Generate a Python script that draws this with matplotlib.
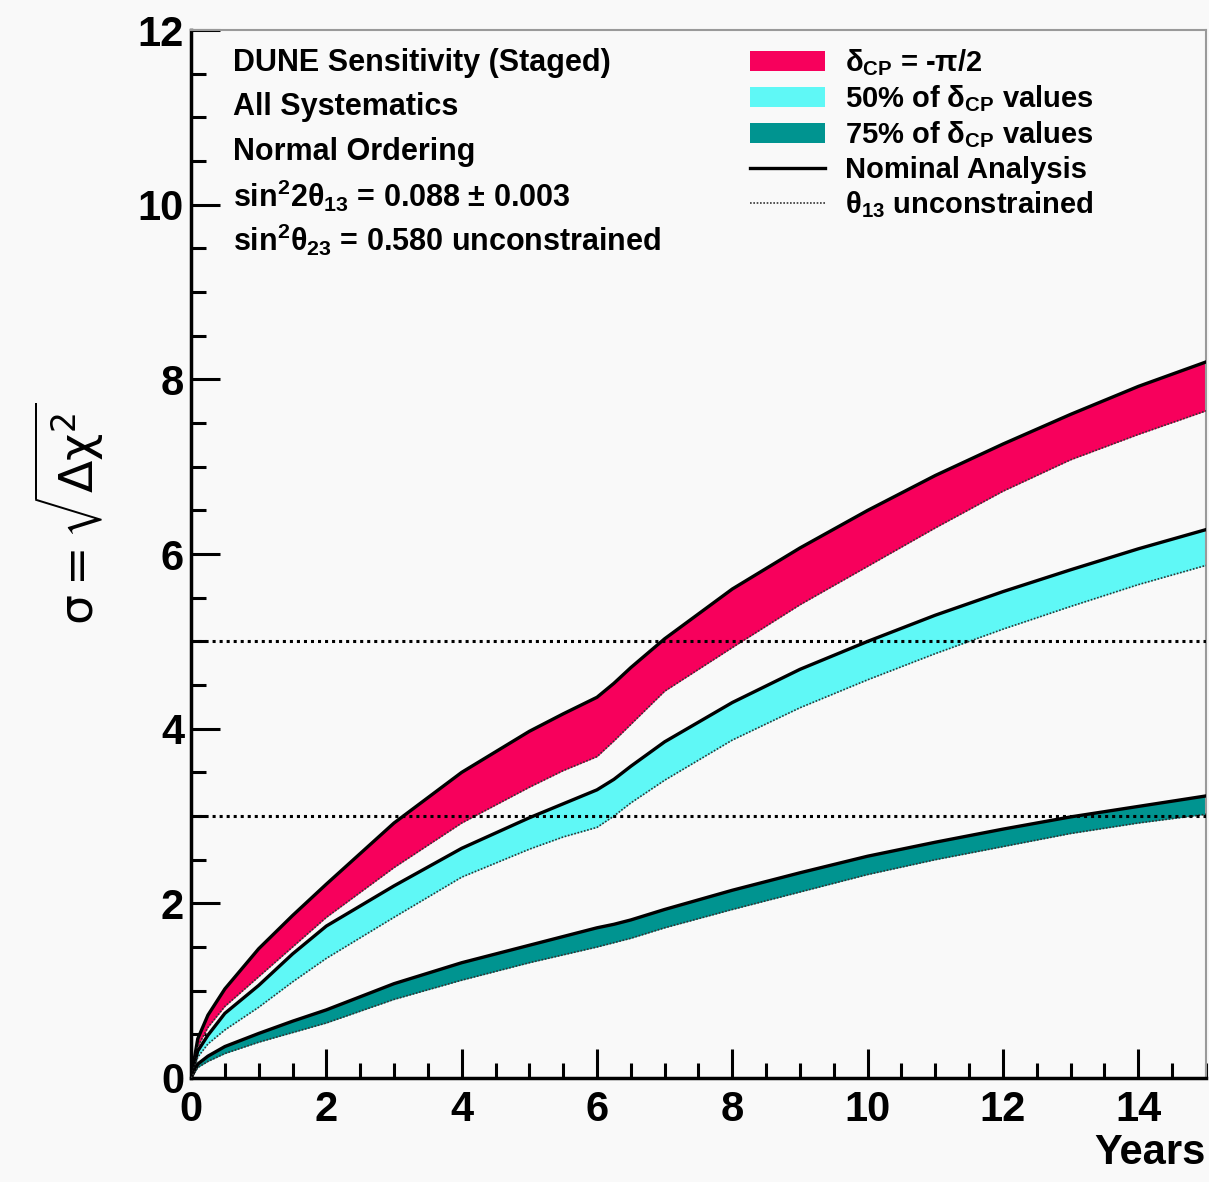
import numpy as np
import matplotlib.pyplot as plt
from matplotlib.patches import Patch
from matplotlib.lines import Line2D
from matplotlib.ticker import MultipleLocator

plt.rcParams['font.family'] = ['Liberation Sans', 'DejaVu Sans']
plt.rcParams['mathtext.fontset'] = 'custom'
plt.rcParams['mathtext.rm'] = 'Liberation Sans:bold'
plt.rcParams['mathtext.it'] = 'Liberation Sans:bold'
plt.rcParams['mathtext.bf'] = 'Liberation Sans:bold'
plt.rcParams['mathtext.sf'] = 'Liberation Sans:bold'
plt.rcParams['mathtext.default'] = 'rm'

# exposure in years
years = [0, 0.1, 0.25, 0.5, 1, 1.5, 2, 3, 4, 5, 5.5, 6, 6.25, 6.5, 7, 8, 9, 10, 11, 12, 13, 14, 15]

# delta_CP = -pi/2 : nominal (upper) and theta13 unconstrained (lower)
red_nominal = [0, 0.45, 0.72, 1.02, 1.48, 1.86, 2.22, 2.92, 3.50, 3.97, 4.17, 4.36, 4.52, 4.70,
               5.03, 5.60, 6.07, 6.50, 6.90, 7.26, 7.60, 7.92, 8.20]
red_unconstr = [0, 0.36, 0.58, 0.82, 1.16, 1.50, 1.84, 2.41, 2.92, 3.33, 3.52, 3.68, 3.86, 4.05,
                4.43, 4.93, 5.42, 5.86, 6.30, 6.72, 7.08, 7.37, 7.64]

# 50% of delta_CP values
cyan_nominal = [0, 0.31, 0.49, 0.74, 1.06, 1.42, 1.74, 2.20, 2.63, 2.98, 3.14, 3.30, 3.42, 3.57,
                3.85, 4.30, 4.68, 5.00, 5.30, 5.57, 5.82, 6.06, 6.28]
cyan_unconstr = [0, 0.24, 0.39, 0.55, 0.81, 1.10, 1.37, 1.84, 2.30, 2.62, 2.76, 2.87, 3.00, 3.15,
                 3.41, 3.87, 4.24, 4.56, 4.86, 5.14, 5.40, 5.65, 5.87]

# 75% of delta_CP values
teal_nominal = [0, 0.16, 0.25, 0.36, 0.51, 0.65, 0.78, 1.08, 1.32, 1.52, 1.62, 1.72, 1.76, 1.81,
                1.93, 2.15, 2.35, 2.54, 2.70, 2.85, 2.99, 3.11, 3.23]
teal_unconstr = [0, 0.12, 0.19, 0.28, 0.41, 0.52, 0.63, 0.90, 1.12, 1.32, 1.41, 1.50, 1.55, 1.60,
                 1.72, 1.93, 2.13, 2.33, 2.50, 2.65, 2.80, 2.92, 3.02]

sigma_levels = [3, 5]

info_lines = ['DUNE Sensitivity (Staged)', 'All Systematics', 'Normal Ordering',
              r'sin$^{2}$2θ$_{13}$ = 0.088 ± 0.003', r'sin$^{2}$θ$_{23}$ = 0.580 unconstrained']
legend_labels = [r'δ$_{CP}$ = -π/2', r'50% of δ$_{CP}$ values', r'75% of δ$_{CP}$ values',
                 'Nominal Analysis', r'θ$_{13}$ unconstrained']

red = '#f7005c'
cyan = '#5ff8f6'
teal = '#009490'
bg = '#f9f9f9'

fig = plt.figure(figsize=(12.09, 11.82), dpi=100, facecolor=bg)
ax = fig.add_axes([0.158, 0.088, 0.8395, 0.8865], facecolor=bg)

bands = [(red_unconstr, red_nominal, red), (cyan_unconstr, cyan_nominal, cyan),
         (teal_unconstr, teal_nominal, teal)]
for low, high, col in bands:
    ax.fill_between(years, low, high, color=col, lw=0, zorder=2)
    ax.plot(years, high, color='black', lw=2.4, zorder=3, solid_joinstyle='round')
    ax.plot(years, low, color='#333333', lw=1.2, ls=(0, (1, 1)), zorder=3)

for s in sigma_levels:
    ax.axhline(s, color='black', lw=2.2, ls=(0, (1, 1.3)), zorder=4)

ax.set_xlim(0, 15)
ax.set_ylim(0, 12)
ax.xaxis.set_major_locator(MultipleLocator(2))
ax.xaxis.set_minor_locator(MultipleLocator(0.5))
ax.yaxis.set_major_locator(MultipleLocator(2))
ax.yaxis.set_minor_locator(MultipleLocator(0.5))
ax.tick_params(which='both', direction='in', width=2.2, top=False, right=False)
ax.tick_params(which='major', length=21)
ax.tick_params(which='minor', length=10.5)
ax.tick_params(axis='x', labelsize=30, pad=9)
ax.tick_params(axis='y', labelsize=30, pad=5)
for lab in ax.get_xticklabels() + ax.get_yticklabels():
    lab.set_fontweight('bold')

for side in ['left', 'bottom']:
    ax.spines[side].set_linewidth(2.5)
for side in ['top', 'right']:
    ax.spines[side].set_linewidth(1.5)
    ax.spines[side].set_color('#9a9a9a')

for i, txt in enumerate(info_lines):
    ax.text(0.62, 11.62 - 0.505 * i, txt, fontsize=22, fontweight='bold', va='center', ha='left')

handles = [Patch(facecolor=red, edgecolor='none'), Patch(facecolor=cyan, edgecolor='none'),
           Patch(facecolor=teal, edgecolor='none'),
           Line2D([], [], color='black', lw=2.4),
           Line2D([], [], color='#333333', lw=1.2, ls=(0, (1, 1)))]
leg = ax.legend(handles, legend_labels, loc='upper left', bbox_to_anchor=(0.551, 0.984),
                frameon=False, fontsize=21, handlelength=2.57, handleheight=0.68,
                handletextpad=0.68, labelspacing=0.19, borderpad=0, borderaxespad=0)
for t in leg.get_texts():
    t.set_fontweight('bold')

fig.text(0.058, 0.565, r'$\sigma = \sqrt{\Delta\chi^{2}}$', rotation=90, fontsize=34,
         ha='center', va='center', math_fontfamily='dejavusans', fontweight='normal')
fig.text(0.997, 0.008, 'Years', fontsize=30, fontweight='bold', ha='right', va='bottom')

fig.savefig('out.png', dpi=100, facecolor=bg)
